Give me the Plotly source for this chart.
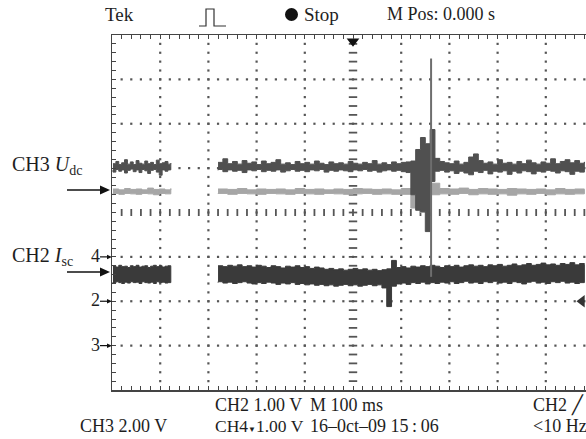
import plotly.graph_objects as go

# ---- data: time in ms (M 100 ms/div), amplitude in graticule divisions ----
# CH3 (U_dc) dark trace, first segment (before the gap)
ch3_t1 = [-498,-492,-486,-480,-474,-468,-462,-456,-450,-444,-438,-432,-426,-420,-414,-408,-402,-396,-390,-384,-378]
ch3_hi1 = [1.10,1.15,1.08,1.12,1.19,1.09,1.14,1.08,1.17,1.11,1.09,1.16,1.10,1.13,1.08,1.18,1.10,1.12,1.15,1.09,1.11]
ch3_lo1 = [0.96,0.91,0.97,0.93,0.96,0.89,0.95,0.98,0.92,0.96,0.90,0.97,0.94,0.88,0.95,0.97,0.91,0.84,0.96,0.93,0.96]

# second segment time base (after the gap)
seg2_t = [-280,-270,-260,-250,-240,-230,-220,-210,-200,-190,-180,-170,-160,-150,-140,-130,-120,-110,-100,-90,
          -80,-70,-60,-50,-40,-30,-20,-10,0,10,20,30,40,50,60,70,80,90,100,110,
          120,130,140,150,160,170,180,190,200,210,220,230,240,250,260,270,280,290,300,310,
          320,330,340,350,360,370,380,390,400,410,420,430,440,450,460,470,480]
ch3_hi2 = [1.13,1.21,1.10,1.15,1.09,1.17,1.11,1.14,1.08,1.16,
           1.10,1.13,1.19,1.09,1.12,1.08,1.15,1.10,1.13,1.09,
           1.16,1.11,1.08,1.14,1.10,1.12,1.09,1.15,1.11,1.09,
           1.13,1.10,1.17,1.09,1.12,1.08,1.14,1.10,1.13,1.14,
           1.16,1.42,1.69,1.55,1.87,1.22,1.15,1.12,1.10,1.16,
           1.09,1.13,1.25,1.32,1.17,1.11,1.14,1.09,1.19,1.11,
           1.13,1.09,1.15,1.10,1.18,1.12,1.09,1.14,1.11,1.21,
           1.10,1.15,1.19,1.12,1.17,1.11,1.14]
ch3_lo2 = [0.95,0.97,0.92,0.96,0.93,0.95,0.90,0.96,0.94,0.97,
           0.92,0.95,0.93,0.96,0.91,0.94,0.97,0.93,0.95,0.92,
           0.96,0.94,0.97,0.91,0.95,0.93,0.96,0.94,0.92,0.96,
           0.94,0.97,0.93,0.95,0.91,0.94,0.96,0.93,0.95,0.92,
           0.90,0.40,0.05,0.02,-0.43,0.70,0.93,0.95,0.91,0.94,
           0.88,0.93,0.89,0.85,0.93,0.90,0.95,0.87,0.93,0.91,
           0.94,0.86,0.93,0.89,0.94,0.92,0.87,0.93,0.91,0.95,
           0.93,0.89,0.94,0.92,0.86,0.93,0.91]

# light grey trace
lt_t1 = [-498,-486,-474,-462,-450,-438,-426,-414,-402,-390,-378]
lt_hi1 = [0.53,0.51,0.54,0.52,0.53,0.51,0.55,0.52,0.53,0.51,0.54]
lt_lo1 = [0.42,0.43,0.41,0.43,0.42,0.41,0.43,0.42,0.40,0.43,0.42]
lt_t2 = [-280,-260,-240,-220,-200,-180,-160,-140,-120,-100,-80,-60,-40,-20,0,20,40,60,80,100,
         120,140,160,180,200,220,240,260,280,300,320,340,360,380,400,420,440,460,480]
lt_hi2 = [0.53,0.52,0.54,0.51,0.53,0.52,0.53,0.51,0.54,0.52,
          0.53,0.51,0.53,0.52,0.54,0.53,0.52,0.53,0.51,0.54,
          0.54,0.68,0.66,0.54,0.53,0.55,0.52,0.54,0.53,0.52,
          0.54,0.53,0.52,0.53,0.51,0.54,0.52,0.53,0.52]
lt_lo2 = [0.42,0.43,0.41,0.43,0.42,0.41,0.43,0.42,0.41,0.43,
          0.42,0.41,0.43,0.42,0.41,0.42,0.43,0.41,0.42,0.41,
          0.41,0.10,0.00,0.40,0.42,0.41,0.43,0.40,0.42,0.41,
          0.42,0.39,0.42,0.41,0.43,0.40,0.42,0.41,0.42]

# CH2 (I_sc) thick band
ch2_t1 = ch3_t1
ch2_hi1 = [-1.20,-1.23,-1.19,-1.22,-1.21,-1.24,-1.20,-1.22,-1.19,-1.23,-1.21,-1.20,-1.24,-1.21,-1.19,-1.22,-1.20,-1.23,-1.21,-1.20,-1.22]
ch2_lo1 = [-1.57,-1.59,-1.56,-1.58,-1.60,-1.57,-1.59,-1.56,-1.58,-1.57,-1.60,-1.56,-1.58,-1.59,-1.57,-1.60,-1.56,-1.58,-1.57,-1.59,-1.58]
ch2_hi2 = [-1.20,-1.22,-1.19,-1.21,-1.18,-1.22,-1.20,-1.23,-1.19,-1.21,
           -1.24,-1.20,-1.22,-1.25,-1.21,-1.23,-1.20,-1.24,-1.22,-1.26,
           -1.23,-1.25,-1.28,-1.26,-1.29,-1.27,-1.30,-1.28,-1.26,-1.29,
           -1.27,-1.30,-1.28,-1.31,-1.29,-1.27,-1.08,-1.24,-1.22,-1.25,
           -1.21,-1.23,-1.20,-1.22,-1.19,-1.21,-1.24,-1.20,-1.22,-1.19,
           -1.23,-1.20,-1.18,-1.21,-1.19,-1.22,-1.18,-1.20,-1.17,-1.21,
           -1.19,-1.16,-1.20,-1.18,-1.15,-1.19,-1.17,-1.14,-1.18,-1.16,
           -1.19,-1.15,-1.17,-1.13,-1.18,-1.15,-1.17]
ch2_lo2 = [-1.58,-1.56,-1.59,-1.57,-1.60,-1.58,-1.56,-1.59,-1.61,-1.58,
           -1.60,-1.57,-1.59,-1.62,-1.59,-1.61,-1.58,-1.62,-1.60,-1.63,
           -1.61,-1.64,-1.62,-1.65,-1.63,-1.66,-1.64,-1.62,-1.65,-1.63,
           -1.66,-1.64,-1.62,-1.65,-1.63,-1.70,-2.12,-1.66,-1.61,-1.59,
           -1.62,-1.58,-1.60,-1.57,-1.61,-1.58,-1.60,-1.57,-1.59,-1.56,
           -1.60,-1.58,-1.55,-1.59,-1.57,-1.60,-1.56,-1.58,-1.55,-1.59,
           -1.57,-1.60,-1.56,-1.58,-1.61,-1.57,-1.55,-1.59,-1.57,-1.60,
           -1.56,-1.58,-1.55,-1.59,-1.57,-1.60,-1.58]

# transient spike
spike_t = [162, 162]
spike_y = [3.47, -1.45]

# channel reference markers (divisions)
ref_labels = ["4", "2", "3"]
ref_levels = [-1, -2, -3]

# ---- figure ----
W, H = 586, 439
PL, PT, PB = 112, 35, 390          # plot box in page pixels (body margin removed below)
DIV_W = 48.2
X0 = -500
X1 = X0 + (W - PL) / DIV_W * 100

def pxx(p):
    return (p - PL) / (W - PL)

def pxy(p):
    return (PB - p) / (PB - PT)

C_DARK = "#505050"
C_BAND = "#3a3a3a"
C_LIGHT = "#a6a6a6"
C_GRID = "#555555"
C_TXT = "#1e1e1e"
FONT = "Liberation Serif"

fig = go.Figure()

# graticule dots
minor_x = [X0 + 20 * i for i in range(1, 50)]
minor_y = [-4 + 0.2 * i for i in range(1, 40)]
gx, gy = [], []
for yv in [-3, -2, -1, 1, 2, 3]:
    for xv in minor_x:
        gx.append(xv); gy.append(yv)
for xv in [-400, -300, -200, -100, 100, 200, 300, 400]:
    for yv in minor_y:
        gx.append(xv); gy.append(yv)
fig.add_trace(go.Scatter(x=gx, y=gy, mode="markers", hoverinfo="skip",
                         marker=dict(symbol="square", size=2.2, color=C_GRID, line=dict(width=0))))
# centre lines with dashes
fig.add_trace(go.Scatter(x=minor_x, y=[0] * len(minor_x), mode="markers", hoverinfo="skip",
                         marker=dict(symbol="line-ns", size=5, line=dict(width=1.8, color=C_GRID))))
fig.add_trace(go.Scatter(x=[0] * len(minor_y), y=minor_y, mode="markers", hoverinfo="skip",
                         marker=dict(symbol="line-ew", size=6, line=dict(width=1.8, color=C_GRID))))

def band(t, hi, lo, color):
    fig.add_trace(go.Scatter(x=list(t) + list(t)[::-1], y=list(hi) + list(lo)[::-1],
                             mode="lines", fill="toself", fillcolor=color, line_shape="hv",
                             line=dict(color=color, width=1), hoverinfo="skip"))

band(lt_t1, lt_hi1, lt_lo1, C_LIGHT)
band(lt_t2, lt_hi2, lt_lo2, C_LIGHT)
band(ch3_t1, ch3_hi1, ch3_lo1, C_DARK)
band(seg2_t, ch3_hi2, ch3_lo2, C_DARK)
band(ch2_t1, ch2_hi1, ch2_lo1, C_BAND)
band(seg2_t, ch2_hi2, ch2_lo2, C_BAND)
fig.add_trace(go.Scatter(x=spike_t, y=spike_y, mode="lines", hoverinfo="skip",
                         line=dict(color="#6e6e6e", width=2)))

# trigger markers
fig.add_trace(go.Scatter(x=[0], y=[3.86], mode="markers", hoverinfo="skip", cliponaxis=False,
                         marker=dict(symbol="triangle-down", size=11, color="#111")))
fig.add_trace(go.Scatter(x=[475], y=[-2], mode="markers", hoverinfo="skip", cliponaxis=False,
                         marker=dict(symbol="triangle-left", size=11, color="#333")))

ann = []
def txt(s, x, y, size=18, xanchor="left"):
    ann.append(dict(text=s, x=pxx(x), y=pxy(y), xref="paper", yref="paper", showarrow=False,
                    xanchor=xanchor, yanchor="middle", font=dict(family=FONT, size=size, color=C_TXT)))

# header
txt("Tek", 119, 14, size=19, xanchor="center")
txt("Stop", 302, 14, size=19)
txt("M Pos: 0.000 s", 385, 14, size=18)
# footer
txt("CH2 1.00 V", 213, 405)
txt("M 100 ms", 308, 405)
txt("CH2 \u2571", 531, 405)
txt("CH3 2.00 V", 78, 426)
txt("CH4<span style='font-size:8px'>\u25bc</span>1.00 V", 213, 426, size=17.5)
txt("16\u20130ct\u201309 15\u2009:\u200906", 308, 426)
txt("&lt;10 Hz", 531, 426)
# channel labels
txt("CH3 <i>U</i><sub>dc</sub>", 10, 166, size=20)
txt("CH2 <i>I</i><sub>sc</sub>", 10, 256, size=20)

shapes = []
def arrow(x0, x1, y, head, width):
    shapes.append(dict(type="line", xref="paper", yref="paper", x0=pxx(x0), x1=pxx(x1 - head),
                       y0=pxy(y), y1=pxy(y), line=dict(color="#111", width=width)))
    shapes.append(dict(type="path", xref="paper", yref="paper", fillcolor="#111", line=dict(width=0),
                       path="M {} {} L {} {} L {} {} Z".format(
                           pxx(x1), pxy(y), pxx(x1 - head), pxy(y - head * 0.45),
                           pxx(x1 - head), pxy(y + head * 0.45))))

for lab, lev in zip(ref_labels, ref_levels):
    ypix = PT + (4 - lev) * (PB - PT) / 8
    txt(lab, 95, ypix - 1, size=18, xanchor="center")
    arrow(100, 112, ypix, 5, 1.2)
# big arrows
arrow(67, 110, 190, 10, 1.3)
arrow(67, 110, 272, 10, 1.3)

# stop dot and run/stop pulse icon
shapes.append(dict(type="circle", xref="paper", yref="paper", x0=pxx(285), x1=pxx(298),
                   y0=pxy(21), y1=pxy(8), fillcolor="#111", line=dict(width=0)))
shapes.append(dict(type="path", xref="paper", yref="paper",
                   path="M {} {} L {} {} L {} {} L {} {} L {} {} L {} {}".format(
                       pxx(199), pxy(26), pxx(206), pxy(26), pxx(206), pxy(9), pxx(214), pxy(9),
                       pxx(214), pxy(26), pxx(226), pxy(26)),
                   line=dict(color="#333", width=1.2)))

fig.update_layout(
    width=W, height=H, margin=dict(l=PL, r=0, t=PT, b=H - PB, pad=0),
    paper_bgcolor="white", plot_bgcolor="white", showlegend=False,
    annotations=ann, shapes=shapes,
    xaxis=dict(range=[X0, X1], showgrid=False, zeroline=False, showticklabels=False,
               ticks="inside", tickvals=[X0 + 20 * i for i in range(50)], ticklen=4,
               tickcolor="#444", tickwidth=1, showline=True, linecolor="#444", linewidth=1.5,
               mirror="ticks", fixedrange=True),
    yaxis=dict(range=[-4, 4], showgrid=False, zeroline=False, showticklabels=False,
               ticks="inside", tickvals=[-4 + 0.2 * i for i in range(41)], ticklen=4,
               tickcolor="#444", tickwidth=1, showline=True, linecolor="#444", linewidth=1.5,
               mirror=False, fixedrange=True),
)

fig.write_html("out.html", config={"displayModeBar": False, "staticPlot": True},
               post_script="document.body.style.margin='0';")
